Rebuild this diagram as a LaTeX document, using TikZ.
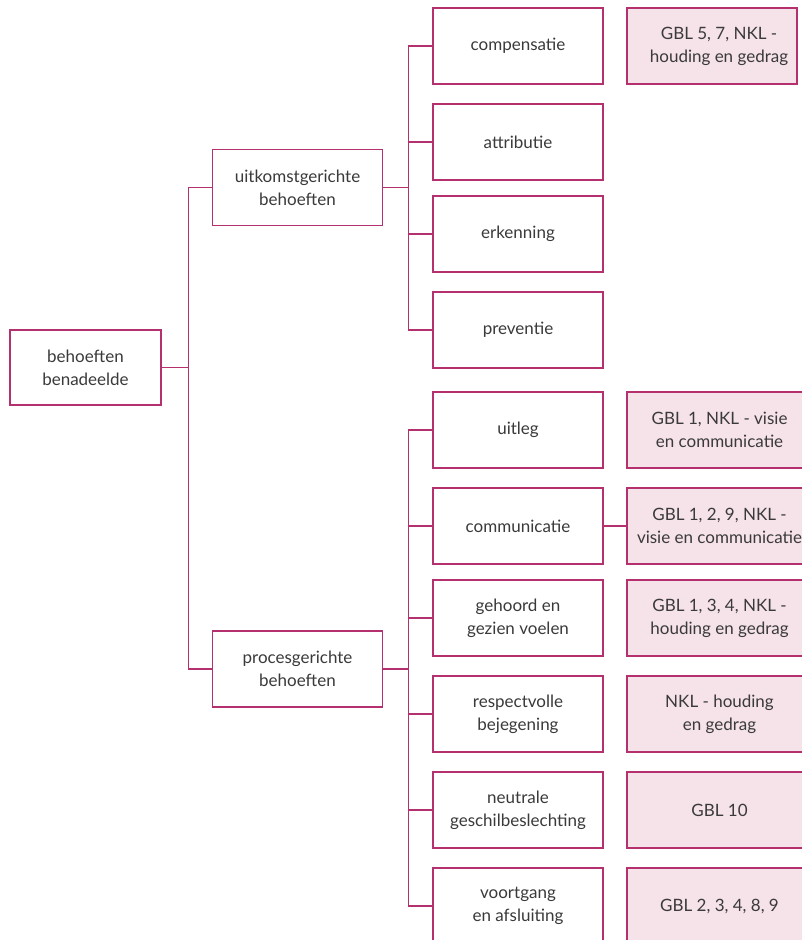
\documentclass[tikz,border=0pt]{standalone}
\usepackage{fontspec}
\setmainfont{Lato}
\usetikzlibrary{positioning, calc}
\definecolor{linkred}{RGB}{181,48,110}
\definecolor{notefill}{RGB}{246,226,233}
\definecolor{textgray}{RGB}{58,58,58}

\begin{document}
\begin{tikzpicture}[x=1pt, y=-1pt,
    box/.style={draw=linkred, line width=1.3pt, fill=white, minimum width=170pt, minimum height=76pt, inner sep=0pt, align=center, text=textgray, font=\fontsize{17}{23}\selectfont},
    rootbox/.style={box, minimum width=151pt, minimum height=75pt},
    note/.style={box, fill=notefill},
    widenote/.style={note, minimum width=185pt},
    link/.style={draw=linkred, line width=1.3pt}
]
    \useasboundingbox (0,0) rectangle (802,940);
    \clip (0,0) rectangle (802,940);

    % root and the two groups
    \node[rootbox] (root) at (85.5, 367.5) {behoeften\\benadeelde};
    \node[box] (uit) at (297.5, 187.5) {uitkomstgerichte\\behoeften};
    \node[box] (proc) at (297.5, 669) {procesgerichte\\behoeften};

    % outcome needs
    \node[box] (comp) at (518, 46) {compensatie};
    \node[box] (attr) at (518, 142) {attributie};
    \node[box] (erk) at (518, 234) {erkenning};
    \node[box] (prev) at (518, 330) {preventie};

    % process needs
    \node[box] (uitl) at (518, 430) {uitleg};
    \node[box] (comm) at (518, 526) {communicatie};
    \node[box] (geh) at (518, 618) {gehoord en\\gezien voelen};
    \node[box] (resp) at (518, 714) {respectvolle\\bejegening};
    \node[box] (neut) at (518, 810) {neutrale\\geschilbeslechting};
    \node[box] (voort) at (518, 906) {voortgang\\en afsluiting};

    % references
    \node[note] (compnote) at (712, 46) {\hspace*{14pt}GBL 5, 7, NKL -\\\hspace*{14pt}houding en gedrag};
    \node[widenote] (uitlnote) at (719.5, 430) {GBL 1, NKL - visie\\en communicatie};
    \node[widenote] (commnote) at (719.5, 526) {GBL 1, 2, 9, NKL -\\visie en communicatie};
    \node[widenote] (gehnote) at (719.5, 618) {GBL 1, 3, 4, NKL -\\houding en gedrag};
    \node[widenote] (respnote) at (719.5, 714) {NKL - houding\\en gedrag};
    \node[widenote] (neutnote) at (719.5, 810) {GBL 10};
    \node[widenote] (voortnote) at (719.5, 906) {GBL 2, 3, 4, 8, 9};

    % connectors
    \draw[link] (root.east) -- ++(27,0) |- (uit.west);
    \draw[link] (root.east) -- ++(27,0) |- (proc.west);
    \foreach \leaf in {comp, attr, erk, prev}
        \draw[link] (uit.east) -- ++(25,0) |- (\leaf.west);
    \foreach \leaf in {uitl, comm, geh, resp, neut, voort}
        \draw[link] (proc.east) -- ++(25,0) |- (\leaf.west);
    \draw[link] (comm) -- (commnote);
\end{tikzpicture}
\end{document}
